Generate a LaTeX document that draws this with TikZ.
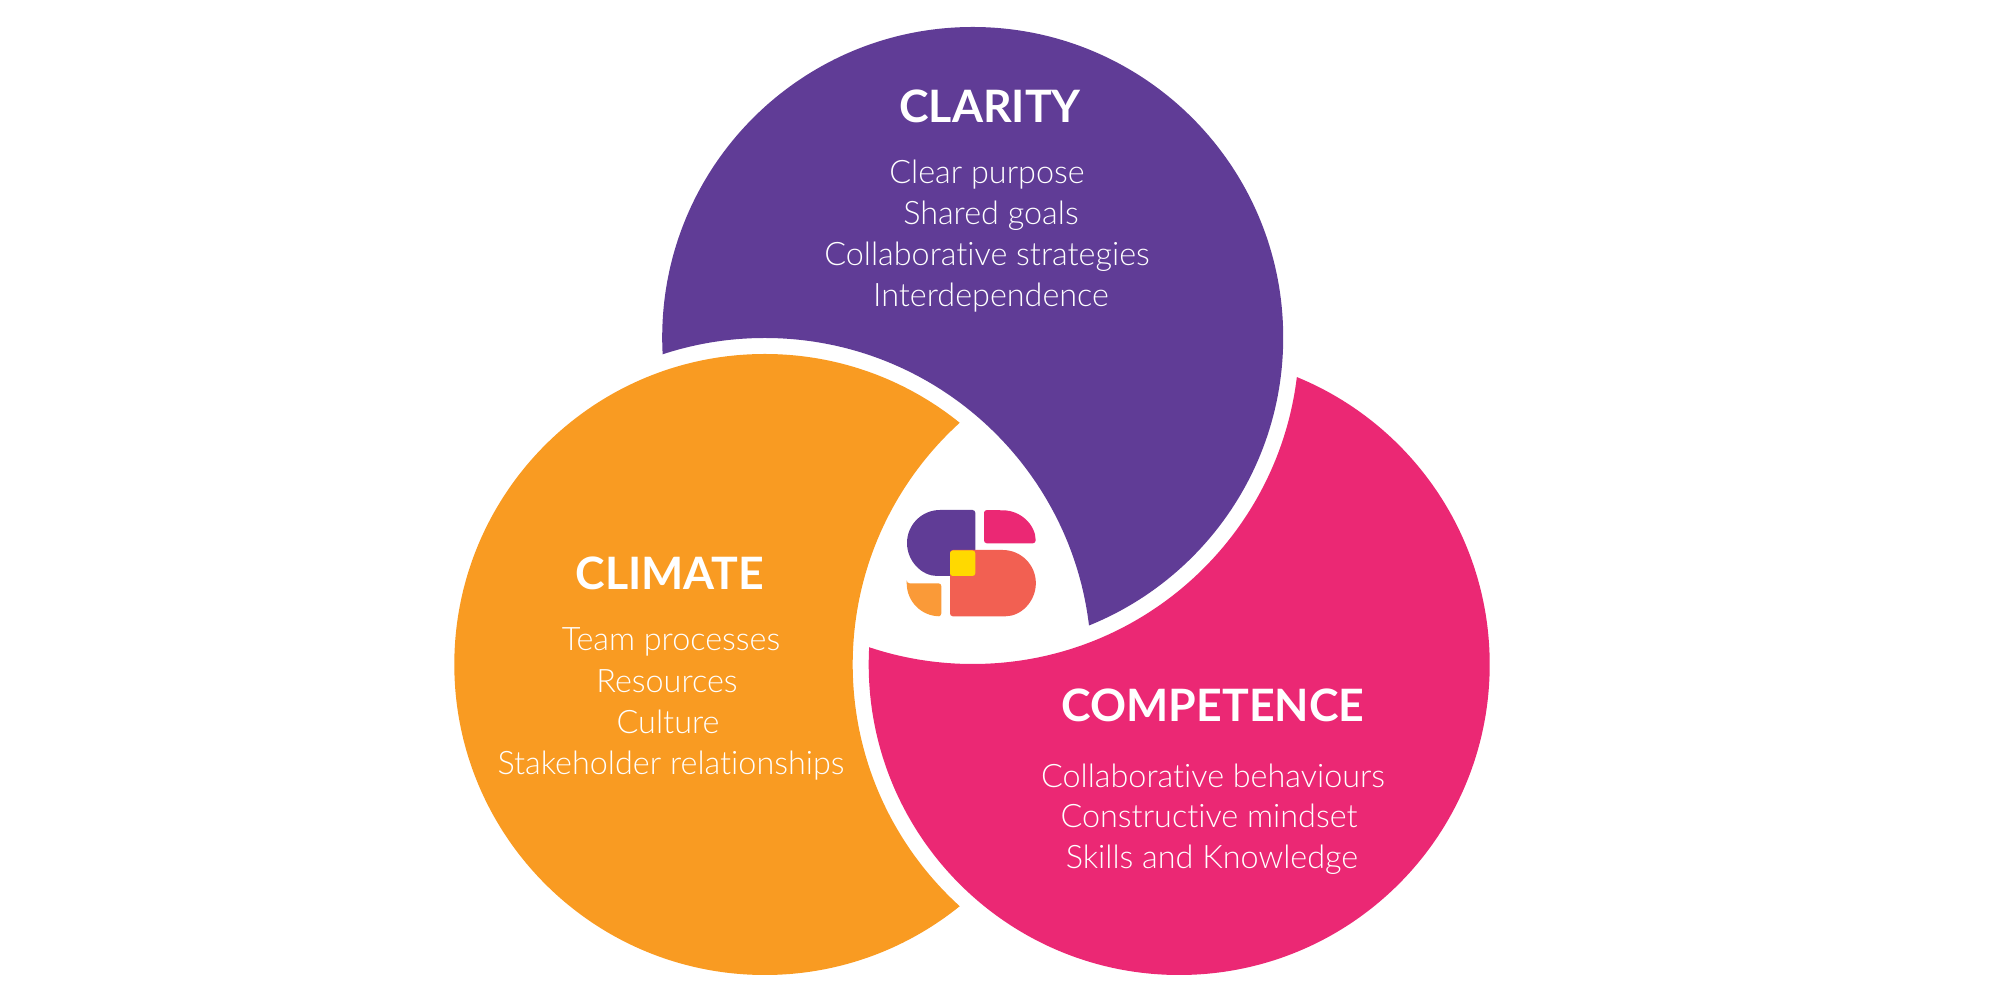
\documentclass[tikz,border=0pt]{standalone}
\usepackage{fontspec}
\setmainfont{Lato}[UprightFont=* Light,BoldFont=* Bold,Ligatures=NoCommon]
\definecolor{clarityc}{HTML}{603C96}
\definecolor{climatec}{HTML}{F99B22}
\definecolor{competencec}{HTML}{EB2874}
\definecolor{logocoral}{HTML}{F26052}
\definecolor{logoyellow}{HTML}{FFD900}
\definecolor{logoorange}{HTML}{FA9A38}
\tikzset{
  heading/.style={anchor=base,text=white,inner sep=0pt,font=\fontsize{12.7}{16}\selectfont\bfseries},
  item/.style={anchor=base,text=white,inner sep=0pt,font=\fontsize{9.2}{12}\selectfont},
  logopart/.style={rounded corners=0.8pt}
}
\begin{document}
\begin{tikzpicture}[x=0.01cm,y=0.01cm]
\useasboundingbox (0,0) rectangle (2000,1000);
\coordinate (clarity) at (972.7,662.5);
\coordinate (climate) at (764.8,335.5);
\coordinate (competence) at (1179.2,335.5);
% each circle loses a ring round its neighbour
\begin{scope}[even odd rule]
\clip (0,0) rectangle (2000,1000) (climate) circle (326.5);
\fill[clarityc] (clarity) circle (310.5);
\end{scope}
\begin{scope}[even odd rule]
\clip (0,0) rectangle (2000,1000) (competence) circle (326.5);
\fill[climatec] (climate) circle (310.5);
\end{scope}
\begin{scope}[even odd rule]
\clip (0,0) rectangle (2000,1000) (clarity) circle (326.5);
\fill[competencec] (competence) circle (310.5);
\end{scope}
% logo
\fill[clarityc,logopart] (975.3,490) -- (975.3,424) -- (940,424) [sharp corners] arc (270:90:33) [rounded corners=0.8pt] -- cycle;
\fill[competencec,logopart] (984,490) -- (984,456.7) -- (1035.7,456.7) [sharp corners] arc (0:90:33) [rounded corners=0.8pt] -- cycle;
\fill[logocoral,logopart] (950,450) -- (950,383.7) -- (1002.7,383.7) [sharp corners] arc (-90:90:33.15) [rounded corners=0.8pt] -- cycle;
\fill[logoyellow,logopart] (950,449.5) rectangle (975.3,424);
\fill[logoorange,logopart] (906.7,416.7) -- (941.3,416.7) -- (941.3,383.7) [sharp corners] -- (939.7,383.7) arc (270:180:33) [rounded corners=0.8pt] -- cycle;
% texts
\node[heading] (claritytitle) at (990,877) {CLARITY};
\node[item] (purpose) at (987,816) {Clear purpose};
\node[item] (goals) at (991,775) {Shared goals};
\node[item] (strategies) at (987,734) {Collaborative strategies};
\node[item] (interdependence) at (991,693) {Interdependence};
\node[heading] (climatetitle) at (670,410) {CLIMATE};
\node[item] (processes) at (671,349) {Team processes};
\node[item] (resources) at (667,307) {Resources};
\node[item] (culture) at (668,266) {Culture};
\node[item] (stakeholder) at (671,225) {Stakeholder relationships};
\node[heading] (competencetitle) at (1213,278) {COMPETENCE};
\node[item] (behaviours) at (1213,212) {Collaborative behaviours};
\node[item] (mindset) at (1209,172) {Constructive mindset};
\node[item] (skills) at (1212,131) {Skills and Knowledge};
\end{tikzpicture}
\end{document}
